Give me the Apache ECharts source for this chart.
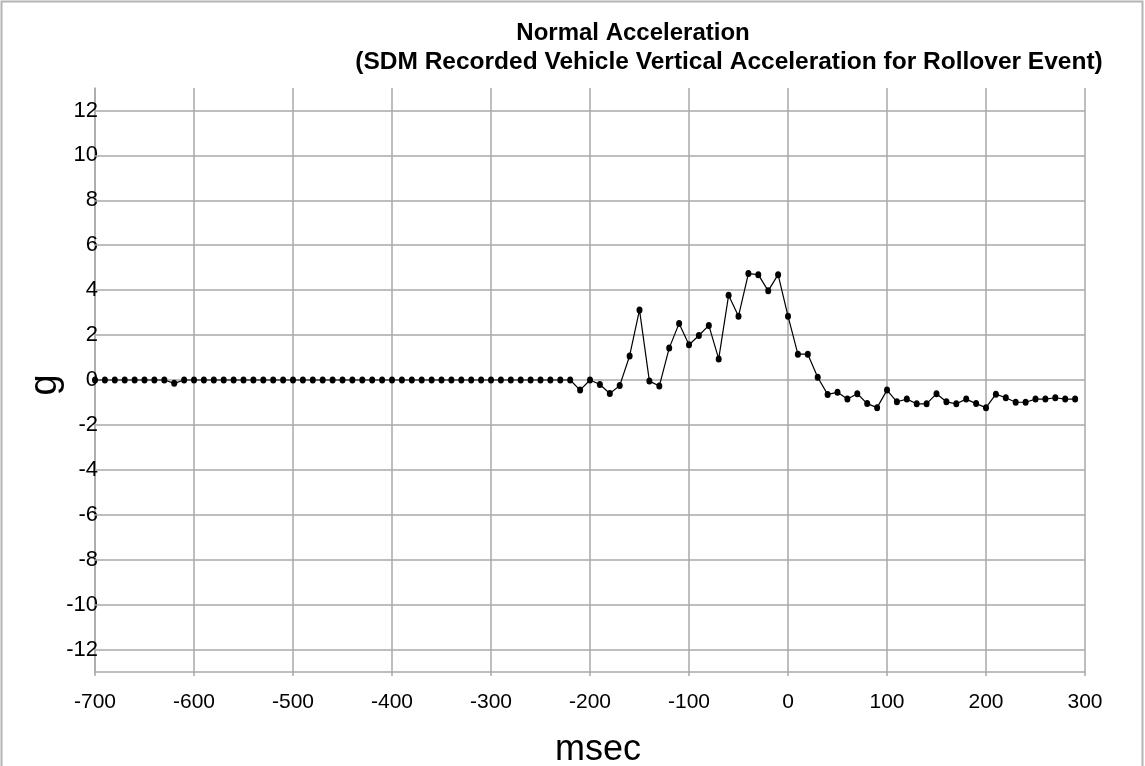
<!DOCTYPE html>
<html>
<head>
<meta charset="utf-8">
<script src="https://cdn.jsdelivr.net/npm/echarts@6/dist/echarts.min.js"></script>
<style>
html,body{margin:0;padding:0;background:#fff;}
#c{width:1145px;height:766px;}
</style>
</head>
<body>
<div id="c"></div>
<script>
const titleLine1 = 'Normal Acceleration';
const titleLine2 = '(SDM Recorded Vehicle Vertical Acceleration for Rollover Event)';
const xName = 'msec';
const yName = 'g';

const timeMs = [
  -700,-690,-680,-670,-660,-650,-640,-630,-620,-610,
  -600,-590,-580,-570,-560,-550,-540,-530,-520,-510,
  -500,-490,-480,-470,-460,-450,-440,-430,-420,-410,
  -400,-390,-380,-370,-360,-350,-340,-330,-320,-310,
  -300,-290,-280,-270,-260,-250,-240,-230,-220,-210,
  -200,-190,-180,-170,-160,-150,-140,-130,-120,-110,
  -100,-90,-80,-70,-60,-50,-40,-30,-20,-10,
  0,10,20,30,40,50,60,70,80,90,
  100,110,120,130,140,150,160,170,180,190,
  200,210,220,230,240,250,260,270,280,290
];
const accelG = [
  0,0,0,0,0,0,0,0,-0.15,0,
  0,0,0,0,0,0,0,0,0,0,
  0,0,0,0,0,0,0,0,0,0,
  0,0,0,0,0,0,0,0,0,0,
  0,0,0,0,0,0,0,0,0,-0.45,
  0,-0.2,-0.6,-0.25,1.07,3.12,-0.05,-0.27,1.42,2.52,
  1.57,1.98,2.43,0.94,3.77,2.84,4.74,4.69,3.97,4.69,
  2.84,1.15,1.15,0.12,-0.64,-0.55,-0.85,-0.61,-1.05,-1.23,
  -0.45,-0.97,-0.85,-1.06,-1.06,-0.61,-0.97,-1.06,-0.85,-1.05,
  -1.23,-0.63,-0.79,-0.99,-0.99,-0.85,-0.85,-0.79,-0.85,-0.85
];
const yGridTicks = [-12,-10,-8,-6,-4,-2,0,2,4,6,8,10,12];
const xRange = [-700, 300];
const yRange = [-13, 13];

const FONT = '"Liberation Sans", Arial, sans-serif';
const GRID_COLOR = '#a8a8a8';

const chart = echarts.init(document.getElementById('c'), null, {renderer: 'canvas'});
chart.setOption({
  animation: false,
  backgroundColor: '#fff',
  textStyle: {fontFamily: FONT, color: '#000'},
  graphic: [
    {type: 'rect', shape: {x: 1.5, y: 1.5, width: 1141, height: 800}, style: {fill: 'none', stroke: '#b4b4b4', lineWidth: 2}, silent: true, z: -10},
    {type: 'text', x: 633, y: 33, style: {text: titleLine1, font: 'bold 24px ' + FONT, fill: '#000', textAlign: 'center', textVerticalAlign: 'middle'}},
    {type: 'text', x: 729, y: 62, style: {text: titleLine2, font: 'bold 24.5px ' + FONT, fill: '#000', textAlign: 'center', textVerticalAlign: 'middle'}},
    {type: 'text', x: 46, y: 385, rotation: Math.PI / 2, style: {text: yName, font: '38px ' + FONT, fill: '#000', textAlign: 'center', textVerticalAlign: 'middle'}}
  ],
  grid: {left: 95, right: 60, top: 88, bottom: 94, containLabel: false, outerBoundsMode: 'none'},
  xAxis: {
    type: 'value',
    min: xRange[0], max: xRange[1], interval: 100,
    name: xName, nameLocation: 'middle', nameGap: 60,
    nameTextStyle: {fontSize: 36, color: '#000', fontFamily: FONT, padding: [0, 0, 0, 16]},
    axisLine: {show: true, onZero: false, lineStyle: {color: GRID_COLOR, width: 1.5}},
    axisTick: {show: true, inside: false, length: 4, lineStyle: {color: GRID_COLOR, width: 1.5}},
    axisLabel: {fontSize: 21, color: '#000', margin: 20, fontFamily: FONT},
    splitLine: {show: true, lineStyle: {color: GRID_COLOR, width: 1.5}}
  },
  yAxis: {
    type: 'value',
    min: yRange[0], max: yRange[1], interval: 1,
    axisLine: {show: true, onZero: false, lineStyle: {color: GRID_COLOR, width: 1.5}},
    axisTick: {show: false},
    axisLabel: {
      fontSize: 22, color: '#000', margin: -3, fontFamily: FONT,
      formatter: function (v) { return yGridTicks.indexOf(v) >= 0 ? String(v) : ''; }
    },
    splitLine: {show: false}
  },
  series: [
    {
      type: 'line',
      data: [],
      silent: true,
      z: 1,
      markLine: {
        silent: true,
        symbol: ['none', 'none'],
        label: {show: false},
        lineStyle: {color: GRID_COLOR, width: 1.5, type: 'solid'},
        emphasis: {disabled: true},
        data: yGridTicks.map(function (v) { return {yAxis: v}; })
      }
    },
    {
      type: 'line',
      z: 5,
      data: timeMs.map(function (t, i) { return [t, accelG[i]]; }),
      symbol: 'circle',
      symbolSize: [6, 7],
      showAllSymbol: true,
      itemStyle: {color: '#000'},
      lineStyle: {color: '#000', width: 1.2},
      emphasis: {disabled: true}
    }
  ]
});
</script>
</body>
</html>
